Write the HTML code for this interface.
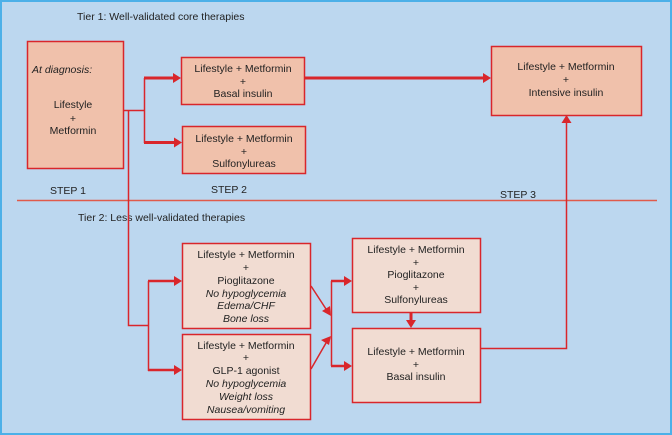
<!DOCTYPE html>
<html><head><meta charset="utf-8"><style>
html,body{margin:0;padding:0;background:#bcd7ef;}
svg{display:block;}
text{font-family:"Liberation Sans",sans-serif;font-size:10.5px;fill:#222;}
.i{font-style:italic;}
</style></head><body>
<svg width="672" height="435" viewBox="0 0 672 435" xmlns="http://www.w3.org/2000/svg">
<rect x="0" y="0" width="672" height="435" fill="#bcd7ef"/>
<rect x="1" y="1" width="670" height="433" fill="none" stroke="#4cb0e8" stroke-width="2"/>
<text x="77" y="20">Tier 1: Well-validated core therapies</text>
<text x="78" y="221">Tier 2:  Less well-validated therapies</text>
<text x="50" y="194">STEP 1</text>
<text x="211" y="193">STEP 2</text>
<text x="500" y="198">STEP 3</text>
<line x1="17" y1="200.5" x2="657" y2="200.5" stroke="#e05a4a" stroke-width="1.5"/>

<g stroke="#d9262b" fill="none">
<path d="M123,110.5 H144.5 M144.5,78 V143 M128.5,110 V325.5 H148.5 M148.5,281 V371" stroke-width="1.5"/>
<path d="M144,78 H175 M144,142.5 H176" stroke-width="3"/>
<path d="M304,78 H485" stroke-width="3"/>
<path d="M148,281 H176 M148,370 H176" stroke-width="2.5"/>
<path d="M311,286 L326,309 M311,369 L326,343" stroke-width="1.5"/>
<path d="M331.5,281 V366" stroke-width="1.5"/>
<path d="M331,281 H346 M331,366 H346" stroke-width="2.5"/>
<path d="M411,312 V322" stroke-width="3"/>
<path d="M480,348.5 H566.5 V122" stroke-width="1.5"/>
</g>

<g stroke="#d9262b" stroke-width="1.5">
<rect x="27.5" y="41.5" width="96" height="127" fill="#f0c1ab"/>
<rect x="181.5" y="57.5" width="123" height="47" fill="#f0c1ab"/>
<rect x="182.5" y="126.5" width="123" height="47" fill="#f0c1ab"/>
<rect x="491.5" y="46.5" width="150" height="69" fill="#f0c1ab"/>
<rect x="182.5" y="243.5" width="128" height="85" fill="#f1dcd2"/>
<rect x="182.5" y="334.5" width="128" height="85" fill="#f1dcd2"/>
<rect x="352.5" y="238.5" width="128" height="74" fill="#f1dcd2"/>
<rect x="352.5" y="328.5" width="128" height="74" fill="#f1dcd2"/>
</g>

<g fill="#d9262b">
<polygon points="173,73 181,78 173,83"/>
<polygon points="174,137.5 182,142.5 174,147.5"/>
<polygon points="483,73 491,78 483,83"/>
<polygon points="174,276 182,281 174,286"/>
<polygon points="174,365 182,370 174,375"/>
<polygon points="344,276 352,281 344,286"/>
<polygon points="344,361 352,366 344,371"/>
<polygon points="406,320 416,320 411,328"/>
<polygon points="561.5,123 571.5,123 566.5,115"/>
<polygon points="322,311 331,316 330,306"/>
<polygon points="321,340 331,336 329,345"/>
</g>

<text x="32" y="73" class="i">At diagnosis:</text>
<g text-anchor="middle">
<text x="73" y="108">Lifestyle</text><text x="73" y="122">+</text><text x="73" y="134">Metformin</text>
<text x="243" y="72">Lifestyle + Metformin</text><text x="243" y="85">+</text><text x="243" y="97">Basal insulin</text>
<text x="244" y="142">Lifestyle + Metformin</text><text x="244" y="155">+</text><text x="244" y="167">Sulfonylureas</text>
<text x="566" y="70">Lifestyle + Metformin</text><text x="566" y="83">+</text><text x="566" y="96">Intensive insulin</text>
<text x="246" y="258">Lifestyle + Metformin</text><text x="246" y="271">+</text><text x="246" y="284">Pioglitazone</text>
<text x="246" y="297" class="i">No hypoglycemia</text><text x="246" y="309" class="i">Edema/CHF</text><text x="246" y="322" class="i">Bone loss</text>
<text x="246" y="349">Lifestyle + Metformin</text><text x="246" y="361">+</text><text x="246" y="374">GLP-1 agonist</text>
<text x="246" y="387" class="i">No hypoglycemia</text><text x="246" y="400" class="i">Weight loss</text><text x="246" y="413" class="i">Nausea/vomiting</text>
<text x="416" y="253">Lifestyle + Metformin</text><text x="416" y="266">+</text><text x="416" y="278">Pioglitazone</text><text x="416" y="291">+</text><text x="416" y="303">Sulfonylureas</text>
<text x="416" y="355">Lifestyle + Metformin</text><text x="416" y="368">+</text><text x="416" y="380">Basal insulin</text>
</g>
</svg>
</body></html>
